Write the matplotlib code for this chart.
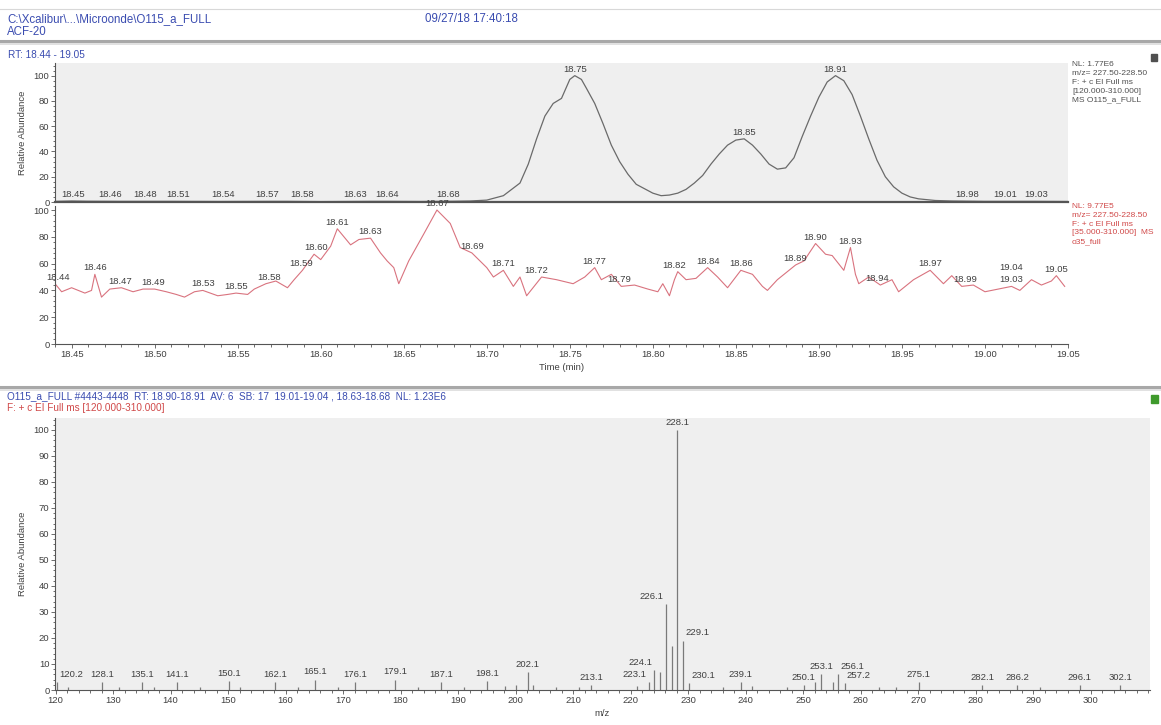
import numpy as np
import matplotlib.pyplot as plt
from matplotlib.lines import Line2D
from matplotlib.ticker import MultipleLocator

plt.rcParams['font.family'] = ['Liberation Sans', 'DejaVu Sans']

W, H = 1161, 725

# --- chromatogram 1 (m/z 227.50-228.50, full scan 120-310)
top_rt = [18.44, 18.45, 18.46, 18.48, 18.51, 18.54, 18.57, 18.58, 18.60, 18.63, 18.64, 18.66, 18.68,
          18.69, 18.70, 18.71, 18.72, 18.725, 18.73, 18.735, 18.74, 18.745, 18.75, 18.753, 18.757,
          18.76, 18.765, 18.77, 18.775, 18.78, 18.785, 18.79, 18.80, 18.805, 18.81, 18.815, 18.82,
          18.825, 18.83, 18.835, 18.84, 18.845, 18.85, 18.855, 18.86, 18.865, 18.87, 18.875, 18.88,
          18.885, 18.89, 18.895, 18.90, 18.905, 18.91, 18.915, 18.92, 18.925, 18.93, 18.935, 18.94,
          18.945, 18.95, 18.955, 18.96, 18.97, 18.98, 19.00, 19.03, 19.05]
top_val = [0.5, 0.8, 0.6, 0.5, 0.5, 0.4, 0.5, 0.5, 0.3, 0.5, 0.5, 0.4, 0.6,
           0.8, 1.5, 5, 15, 30, 50, 68, 78, 82, 97, 100, 97,
           90, 78, 62, 45, 32, 22, 14, 7, 5, 5.5, 7, 10,
           15, 21, 30, 38, 45, 49, 50, 45, 38, 30, 26, 27,
           35, 52, 68, 83, 95, 100, 96, 85, 68, 50, 33, 20,
           12, 7, 4, 2.5, 1.2, 0.8, 0.5, 0.5, 0.4]
top_peak_rt = [18.753, 18.855, 18.91]
top_peak_txt = ['18.75', '18.85', '18.91']
top_base_rt = [18.451, 18.473, 18.494, 18.514, 18.541, 18.568, 18.589, 18.621, 18.64, 18.677,
               18.989, 19.012, 19.031]
top_base_txt = ['18.45', '18.46', '18.48', '18.51', '18.54', '18.57', '18.58', '18.63', '18.64',
                '18.68', '18.98', '19.01', '19.03']

# --- chromatogram 2 (m/z 227.50-228.50, full scan 35-310)
mid_rt = [18.440, 18.444, 18.450, 18.458, 18.462, 18.464, 18.468, 18.473, 18.480,
          18.487, 18.493, 18.500, 18.507, 18.513, 18.518, 18.524, 18.529, 18.538, 18.544,
          18.549, 18.556, 18.560, 18.567, 18.573, 18.580, 18.584, 18.589, 18.596, 18.600,
          18.606, 18.610, 18.618, 18.623, 18.630, 18.636, 18.640, 18.644, 18.647, 18.653,
          18.662, 18.670, 18.678, 18.684, 18.691, 18.700, 18.704, 18.710, 18.716, 18.720,
          18.724, 18.733, 18.742, 18.752, 18.759, 18.765, 18.769, 18.775, 18.781, 18.789,
          18.797, 18.803, 18.806, 18.810, 18.813, 18.815, 18.820, 18.826, 18.833, 18.839,
          18.845, 18.853, 18.860, 18.866, 18.869, 18.875, 18.882, 18.886, 18.891, 18.898,
          18.904, 18.908, 18.915, 18.919, 18.922, 18.924, 18.930, 18.937, 18.944, 18.948,
          18.957, 18.967, 18.975, 18.980, 18.986, 18.993, 19.000, 19.008, 19.016, 19.021,
          19.028, 19.034, 19.040, 19.043, 19.048]
mid_val = [45, 39, 42, 38, 40, 52, 35, 41, 42,
           39, 41, 41, 39, 37, 35, 39, 40, 36, 37,
           38, 37, 41, 45, 47, 42, 48, 55, 67, 63,
           73, 86, 74, 78, 79, 68, 62, 57, 45, 62,
           82, 100, 90, 72, 68, 57, 50, 55, 43, 50,
           36, 50, 48, 45, 50, 57, 48, 52, 43, 44,
           41, 39, 45, 36, 48, 54, 48, 49, 57, 50,
           42, 55, 52, 43, 40, 48, 55, 59, 62, 75,
           67, 66, 55, 72, 52, 45, 50, 44, 48, 39,
           48, 55, 45, 51, 43, 44, 39, 41, 43, 40,
           48, 44, 47, 51, 43]
mid_lab_rt = [18.442, 18.464, 18.479, 18.499, 18.529, 18.549, 18.569, 18.588, 18.597, 18.61,
              18.63, 18.67, 18.691, 18.71, 18.73, 18.765, 18.78, 18.813, 18.833, 18.853,
              18.886, 18.898, 18.919, 18.935, 18.967, 18.988, 19.016, 19.016, 19.043]
mid_lab_txt = ['18.44', '18.46', '18.47', '18.49', '18.53', '18.55', '18.58', '18.59', '18.60',
               '18.61', '18.63', '18.67', '18.69', '18.71', '18.72', '18.77', '18.79', '18.82',
               '18.84', '18.86', '18.89', '18.90', '18.93', '18.94', '18.97', '18.99', '19.04',
               '19.03', '19.05']

rt_ticks = [18.45, 18.50, 18.55, 18.60, 18.65, 18.70, 18.75, 18.80, 18.85, 18.90, 18.95, 19.00, 19.05]

# --- mass spectrum (scans 4443-4448)
ms_mz = [120.2, 122.1, 128.1, 131.1, 135.1, 137.1, 141.1, 145.1, 150.1, 152.1, 158.1, 162.1,
         165.1, 169.1, 172.1, 179.1, 183.1, 187.1, 191.1, 195.1, 198.1, 200.1, 202.1, 203.1,
         207.1, 211.1, 213.1, 221.1, 223.1, 224.1, 225.1, 226.1, 227.1, 228.1, 229.1, 230.1,
         236.1, 239.1, 241.1, 247.1, 250.1, 252.1, 253.1, 255.1, 256.1, 257.2, 263.1, 266.1,
         270.1, 281.1, 287.2, 291.1, 298.1, 305.1]
ms_rel = [3, 1, 3, 1.2, 3, 1, 3, 1, 3.5, 1, 3, 1.2,
          4, 1, 3, 4, 1.2, 3, 1, 3.5, 1.5, 2, 7, 2,
          1, 1, 2, 1.5, 3, 7.5, 7, 33, 17, 100, 19, 2.5,
          1, 3, 1.5, 1, 2, 3, 6, 3, 6, 2.5, 1, 1,
          3, 2, 2, 1, 2, 2]
# label text, and the m/z of the bar it sits on
ms_lab = ['120.2', '128.1', '135.1', '141.1', '150.1', '162.1', '165.1', '176.1', '179.1', '187.1',
          '198.1', '202.1', '213.1', '223.1', '224.1', '226.1', '228.1', '229.1', '230.1', '239.1',
          '250.1', '253.1', '256.1', '257.2', '275.1', '282.1', '286.2', '296.1', '302.1']
ms_lab_mz = [120.2, 128.1, 135.1, 141.1, 150.1, 158.1, 165.1, 172.1, 179.1, 187.1,
             195.1, 202.1, 213.1, 223.1, 224.1, 226.1, 228.1, 229.1, 230.1, 239.1,
             250.1, 253.1, 256.1, 257.2, 270.1, 281.1, 287.2, 298.1, 305.1]
ms_lab_ha = {'120.2': 'left', '223.1': 'right', '224.1': 'right', '226.1': 'right',
             '229.1': 'left', '230.1': 'left', '256.1': 'left', '257.2': 'left'}
mz_ticks = list(range(120, 301, 10))

GREY_BG = '#efefef'
AX_COL = '#555555'
TXT = '#404040'
BLUE = '#3a4cb0'
RED = '#d04848'
FS = 6.8


def px_axes(fig, left, top, right, bottom):
    return fig.add_axes([left / W, 1 - bottom / H, (right - left) / W, (bottom - top) / H])


def style(ax):
    for s in ['top', 'right']:
        ax.spines[s].set_visible(False)
    for s in ['left', 'bottom']:
        ax.spines[s].set_color(AX_COL)
        ax.spines[s].set_linewidth(0.8)
    ax.tick_params(which='both', direction='out', colors=AX_COL, labelsize=FS, labelcolor=TXT,
                   width=0.6, pad=1)
    ax.tick_params(which='major', length=3)
    ax.tick_params(which='minor', length=1.8)


fig = plt.figure(figsize=(W / 100, H / 100), dpi=100)

# header text and separators
fig.add_artist(Line2D([0, 1], [1 - 9 / H] * 2, color='#d8d8d8', lw=0.8))
fig.text(7 / W, 1 - 19 / H, 'C:\\Xcalibur\\...\\Microonde\\O115_a_FULL', color=BLUE, fontsize=8.3, va='center')
fig.text(425 / W, 1 - 19 / H, '09/27/18 17:40:18', color=BLUE, fontsize=8.3, va='center')
fig.text(7 / W, 1 - 32 / H, 'ACF-20', color=BLUE, fontsize=8.3, va='center')
fig.add_artist(Line2D([0, 1], [1 - 41 / H] * 2, color='#a8a8a8', lw=2.2))
fig.add_artist(Line2D([0, 1], [1 - 43.5 / H] * 2, color='#dcdcdc', lw=1.2))
fig.text(8 / W, 1 - 55 / H, 'RT: 18.44 - 19.05', color=BLUE, fontsize=7.2, va='center')

# top chromatogram
ax1 = px_axes(fig, 55, 63, 1068, 202)
ax1.set_facecolor(GREY_BG)
style(ax1)
ax1.spines['bottom'].set_linewidth(1.6)
ax1.plot(top_rt, top_val, color='#6a6a6a', lw=0.9)
ax1.set_xlim(18.44, 19.05)
ax1.set_ylim(0, 110)
ax1.set_xticks([])
ax1.yaxis.set_major_locator(MultipleLocator(20))
ax1.yaxis.set_minor_locator(MultipleLocator(4))
ax1.set_ylabel('Relative Abundance', fontsize=FS, color=TXT, labelpad=5)
for r, t in zip(top_peak_rt, top_peak_txt):
    ax1.text(r, np.interp(r, top_rt, top_val) + 1.5, t, fontsize=FS, color=TXT, ha='center', va='bottom')
for r, t in zip(top_base_rt, top_base_txt):
    ax1.text(r, 2.2, t, fontsize=FS, color=TXT, ha='center', va='bottom')

# second chromatogram
ax2 = px_axes(fig, 55, 206, 1068, 344)
style(ax2)
ax2.plot(mid_rt, mid_val, color='#d9737f', lw=0.8)
ax2.set_xlim(18.44, 19.05)
ax2.set_ylim(0, 103)
ax2.set_xticks(rt_ticks)
ax2.set_xticklabels(['%.2f' % v for v in rt_ticks])
ax2.xaxis.set_minor_locator(MultipleLocator(0.01))
ax2.yaxis.set_major_locator(MultipleLocator(20))
ax2.yaxis.set_minor_locator(MultipleLocator(4))
ax2.set_xlabel('Time (min)', fontsize=FS, color=TXT, labelpad=3)
mid_rt_a = np.array(mid_rt)
mid_val_a = np.array(mid_val)
for r, t in zip(mid_lab_rt, mid_lab_txt):
    near = np.abs(mid_rt_a - r) <= 0.004
    y = mid_val_a[near].max() if near.any() else np.interp(r, mid_rt, mid_val)
    if t == '19.04':
        y += 9
    ax2.text(r, y + 1.5, t, fontsize=FS, color=TXT, ha='center', va='bottom')

# right-hand info blocks
for i, line in enumerate(['NL: 1.77E6', 'm/z= 227.50-228.50', 'F: + c EI Full ms',
                          '[120.000-310.000]', 'MS O115_a_FULL']):
    fig.text(1072 / W, 1 - (65 + i * 8.8) / H, line, fontsize=6.0, color='#505050', va='center')
for i, line in enumerate(['NL: 9.77E5', 'm/z= 227.50-228.50', 'F: + c EI Full ms',
                          '[35.000-310.000]  MS', 'o35_full']):
    fig.text(1072 / W, 1 - (207 + i * 8.6) / H, line, fontsize=6.0, color=RED, va='center')
fig.add_artist(plt.Rectangle((1151 / W, 1 - 61 / H), 6 / W, 7 / H, color='#505050'))

# separator before spectrum
fig.add_artist(Line2D([0, 1], [1 - 387 / H] * 2, color='#a8a8a8', lw=2.2))
fig.add_artist(Line2D([0, 1], [1 - 389.5 / H] * 2, color='#dcdcdc', lw=1.2))
fig.text(7 / W, 1 - 396.5 / H,
         'O115_a_FULL #4443-4448  RT: 18.90-18.91  AV: 6  SB: 17  19.01-19.04 , 18.63-18.68  NL: 1.23E6',
         fontsize=7.2, color=BLUE, va='center')
fig.text(7 / W, 1 - 408.5 / H, 'F: + c EI Full ms [120.000-310.000]', fontsize=7.2, color=RED, va='center')
fig.add_artist(plt.Rectangle((1151 / W, 1 - 403 / H), 7 / W, 8 / H, color='#3f9a2c'))

# mass spectrum
ax3 = px_axes(fig, 55, 418, 1150, 690)
ax3.set_facecolor(GREY_BG)
style(ax3)
ax3.vlines(ms_mz, 0, ms_rel, color='#7a7a7a', lw=0.9)
ax3.set_xlim(119.9, 310.3)
ax3.set_ylim(0, 104.6)
ax3.set_xticks(mz_ticks)
ax3.xaxis.set_minor_locator(MultipleLocator(2))
ax3.yaxis.set_major_locator(MultipleLocator(10))
ax3.yaxis.set_minor_locator(MultipleLocator(2))
ax3.set_xlabel('m/z', fontsize=FS, color=TXT, labelpad=3)
ax3.set_ylabel('Relative Abundance', fontsize=FS, color=TXT, labelpad=5)
for t, m in zip(ms_lab, ms_lab_mz):
    i = int(np.argmin(np.abs(np.array(ms_mz) - m)))
    ha = ms_lab_ha.get(t, 'center')
    dx = {'left': 0.4, 'right': -0.4}.get(ha, 0)
    ax3.text(m + dx, ms_rel[i] + 1.2, t, fontsize=FS, color=TXT, ha=ha, va='bottom')

fig.savefig('out.png', dpi=100)
